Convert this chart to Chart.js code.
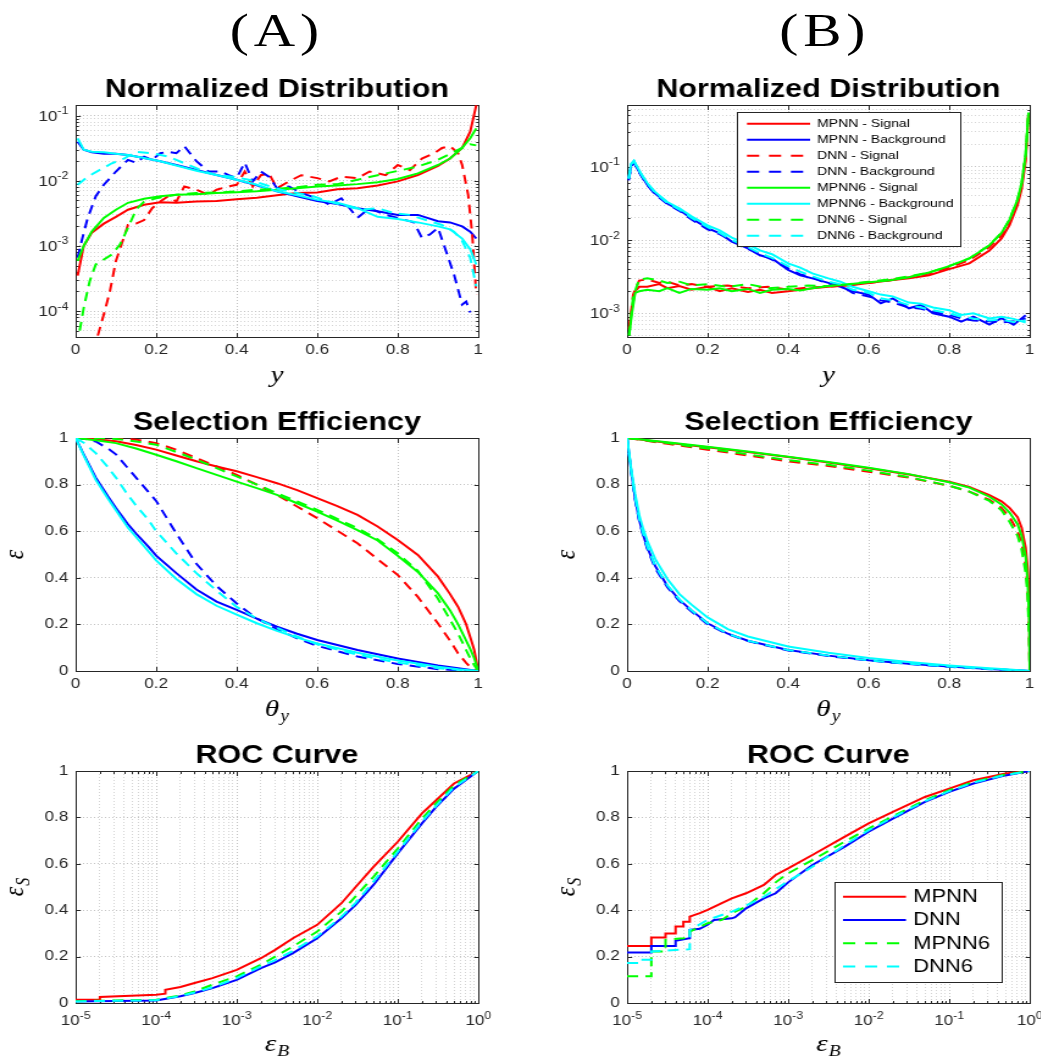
<!DOCTYPE html>
<html>
<head>
<meta charset="utf-8">
<title>MPNN vs DNN</title>
<script src="https://cdn.jsdelivr.net/npm/chart.js@4.4.1/dist/chart.umd.min.js"></script>
<style>
  html, body { margin: 0; padding: 0; background: #fff; overflow: hidden; }
  /* whole figure is a bit wide, so it is laid out narrow and stretched */
  #page { position: absolute; left: 0; top: 0; width: 854px; height: 1057px;
          transform: scaleX(1.22); transform-origin: 0 0; }
  .panel { position: absolute; width: 406px; }
  .tag { position: absolute; top: 7px; width: 200px; text-align: center;
         font: 47px/47px "Liberation Serif", "Times New Roman", serif; letter-spacing: 4px; color: #000; }
</style>
</head>
<body>
<div id="page">
  <div class="tag" style="left:127px">(A)</div>
  <div class="tag" style="left:576px">(B)</div>
  <div class="panel" id="pA1"><canvas id="cA1"></canvas></div>
  <div class="panel" id="pB1"><canvas id="cB1"></canvas></div>
  <div class="panel" id="pA2"><canvas id="cA2"></canvas></div>
  <div class="panel" id="pB2"><canvas id="cB2"></canvas></div>
  <div class="panel" id="pA3"><canvas id="cA3"></canvas></div>
  <div class="panel" id="pB3"><canvas id="cB3"></canvas></div>
</div>
<script>
// ---------- data ----------
// (A) normalized distribution
const A1_X = [0.005,0.02,0.04,0.07,0.1,0.13,0.17,0.21,0.25,0.3,0.35,0.4,0.45,0.5,0.55,0.6,0.65,0.7,0.75,0.8,0.85,0.9,0.93,0.96,0.98,0.995];
const A1_MPNN_SIG  = [3.5e-4,1.0e-3,1.6e-3,2.2e-3,2.8e-3,3.6e-3,4.3e-3,4.7e-3,4.6e-3,4.8e-3,4.9e-3,5.2e-3,5.5e-3,6.0e-3,6.5e-3,6.6e-3,7.4e-3,7.7e-3,8.5e-3,9.8e-3,1.23e-2,1.7e-2,2.2e-2,3.2e-2,5.7e-2,0.145];
const A1_MPNN_BKG  = [0.040,0.030,0.0275,0.026,0.026,0.025,0.0224,0.020,0.0175,0.0147,0.0123,0.0104,0.0085,0.0069,0.0058,0.0049,0.0044,0.0038,0.0034,0.0030,0.0030,0.0024,0.0023,0.0020,0.00166,0.0013];
const A1_MPNN6_SIG = [5.9e-4,1.0e-3,1.66e-3,2.7e-3,3.6e-3,4.6e-3,5.3e-3,5.8e-3,6.1e-3,6.2e-3,6.5e-3,6.7e-3,6.9e-3,7.3e-3,7.7e-3,8.2e-3,8.5e-3,8.9e-3,9.5e-3,1.07e-2,1.3e-2,1.75e-2,2.2e-2,3.2e-2,4.5e-2,6.4e-2];
const A1_MPNN6_BKG = [0.045,0.030,0.028,0.0275,0.026,0.025,0.0224,0.020,0.0172,0.0143,0.0123,0.0104,0.0087,0.0069,0.006,0.0051,0.0046,0.0038,0.0028,0.0026,0.0023,0.002,0.0018,0.0013,8.9e-4,5.2e-4];
const A1_DNN_SIG_X = [0.055,0.07,0.085,0.1,0.13,0.15,0.17,0.19,0.21,0.23,0.25,0.27,0.3,0.33,0.35,0.38,0.4,0.42,0.44,0.46,0.48,0.5,0.53,0.56,0.6,0.63,0.66,0.7,0.73,0.77,0.8,0.83,0.86,0.89,0.91,0.93,0.95,0.96,0.975,0.985,0.995];
const A1_DNN_SIG   = [4.2e-5,8.9e-5,2.0e-4,5.9e-4,2.1e-3,2.2e-3,2.5e-3,3.8e-3,4.8e-3,5.8e-3,4.8e-3,8.2e-3,7.3e-3,6.1e-3,7.3e-3,8.2e-3,8.7e-3,1.39e-2,8.2e-3,1.22e-2,1.3e-2,7.7e-3,9.8e-3,1.22e-2,1.1e-2,9.8e-3,1.16e-2,1.1e-2,1.39e-2,1.22e-2,1.75e-2,1.46e-2,2.2e-2,2.65e-2,3.2e-2,3.4e-2,2.65e-2,1.75e-2,6.1e-3,1.5e-3,1.8e-4];
const A1_DNN_BKG_X = [0.005,0.015,0.03,0.05,0.07,0.1,0.13,0.15,0.17,0.19,0.21,0.23,0.25,0.27,0.3,0.33,0.36,0.38,0.4,0.42,0.44,0.46,0.48,0.5,0.53,0.56,0.6,0.63,0.66,0.7,0.73,0.77,0.8,0.84,0.86,0.88,0.9,0.92,0.94,0.96,0.97,0.98];
const A1_DNN_BKG   = [6.6e-4,1.2e-3,2.7e-3,5.8e-3,8.7e-3,1.39e-2,2.1e-2,1.9e-2,2.35e-2,2.1e-2,2.65e-2,2.8e-2,2.65e-2,3.4e-2,2.0e-2,1.39e-2,1.39e-2,1.22e-2,1.1e-2,1.9e-2,9.8e-3,1.39e-2,1.16e-2,7.7e-3,8.2e-3,6.5e-3,5.4e-3,4.3e-3,5.4e-3,2.7e-3,3.8e-3,3.0e-3,2.7e-3,2.3e-3,1.33e-3,1.5e-3,1.9e-3,8.3e-4,3.6e-4,1.26e-4,1.4e-4,9.5e-5];
const A1_DNN6_SIG_X = [0.01,0.02,0.035,0.05,0.07,0.09,0.11,0.13,0.15,0.17,0.2,0.25,0.3,0.35,0.4,0.45,0.5,0.55,0.6,0.65,0.7,0.75,0.8,0.85,0.9,0.93,0.96,0.98,0.995];
const A1_DNN6_SIG   = [5e-5,1.12e-4,2.9e-4,5.2e-4,6.2e-4,7.4e-4,1.05e-3,1.9e-3,3.6e-3,4.8e-3,5.4e-3,6.1e-3,6.5e-3,6.6e-3,6.9e-3,7.3e-3,7.5e-3,8.0e-3,8.7e-3,8.9e-3,1.04e-2,1.22e-2,1.42e-2,1.66e-2,2.1e-2,2.6e-2,3.2e-2,3.65e-2,3.5e-2];
const A1_DNN6_BKG_X = [0.005,0.03,0.06,0.09,0.12,0.15,0.19,0.23,0.27,0.31,0.35,0.39,0.43,0.47,0.51,0.55,0.59,0.63,0.67,0.71,0.75,0.79,0.83,0.87,0.91,0.94,0.96,0.98,0.995];
const A1_DNN6_BKG   = [8.7e-3,1.16e-2,1.47e-2,1.86e-2,2.2e-2,2.8e-2,2.65e-2,2.35e-2,1.86e-2,1.47e-2,1.22e-2,1.16e-2,1.04e-2,8.7e-3,7.3e-3,6.5e-3,5.8e-3,4.8e-3,4.1e-3,3.6e-3,3.8e-3,3.2e-3,3.0e-3,2.5e-3,2.1e-3,1.66e-3,1.2e-3,6.6e-4,2.4e-4];

// (B) normalized distribution
const B1_SIG_X = [0.005,0.012,0.02,0.03,0.05,0.08,0.1,0.13,0.16,0.2,0.23,0.26,0.3,0.33,0.36,0.4,0.43,0.46,0.5,0.55,0.6,0.65,0.7,0.75,0.8,0.85,0.9,0.93,0.95,0.97,0.98,0.99,0.997];
const B1_MPNN_SIG  = [6.3e-4,1.17e-3,2.0e-3,2.3e-3,2.3e-3,2.5e-3,2.2e-3,2.35e-3,2.1e-3,2.3e-3,2.0e-3,2.2e-3,1.95e-3,2.1e-3,1.9e-3,2.0e-3,2.1e-3,2.2e-3,2.3e-3,2.4e-3,2.6e-3,2.8e-3,3.0e-3,3.3e-3,4.0e-3,4.8e-3,7.2e-3,1.05e-2,1.6e-2,3.0e-2,5.0e-2,0.12,0.5];
const B1_MPNN6_SIG = [5e-4,1.0e-3,1.9e-3,2.0e-3,2.1e-3,2.0e-3,2.2e-3,1.9e-3,2.15e-3,2.1e-3,2.2e-3,2.0e-3,2.15e-3,1.9e-3,2.1e-3,2.15e-3,2.05e-3,2.2e-3,2.35e-3,2.5e-3,2.65e-3,2.8e-3,3.1e-3,3.6e-3,4.4e-3,5.6e-3,8.5e-3,1.25e-2,1.9e-2,3.6e-2,6.0e-2,0.15,0.55];
const B1_DSIG_X = [0.005,0.015,0.03,0.05,0.08,0.1,0.13,0.16,0.2,0.25,0.3,0.35,0.4,0.45,0.5,0.55,0.6,0.65,0.7,0.75,0.8,0.85,0.9,0.93,0.95,0.97,0.98,0.99,0.997];
const B1_DNN_SIG   = [6e-4,1.8e-3,2.8e-3,2.9e-3,2.6e-3,2.7e-3,2.4e-3,2.5e-3,2.3e-3,2.4e-3,2.2e-3,2.3e-3,2.1e-3,2.25e-3,2.3e-3,2.45e-3,2.6e-3,2.8e-3,3.1e-3,3.5e-3,4.2e-3,5.3e-3,8e-3,1.15e-2,1.75e-2,3.3e-2,5.5e-2,0.14,0.52];
const B1_DNN6_SIG  = [5e-4,1.7e-3,2.9e-3,3.0e-3,2.8e-3,2.6e-3,2.7e-3,2.4e-3,2.5e-3,2.3e-3,2.5e-3,2.2e-3,2.3e-3,2.4e-3,2.35e-3,2.5e-3,2.7e-3,2.9e-3,3.2e-3,3.6e-3,4.4e-3,5.6e-3,8.5e-3,1.25e-2,1.9e-2,3.6e-2,6e-2,0.15,0.55];
const B1_BKG_X = [0.004,0.01,0.017,0.025,0.035,0.05,0.07,0.1,0.13,0.16,0.2,0.23,0.26,0.3,0.33,0.36,0.4,0.43,0.46,0.5,0.53,0.56,0.6,0.63,0.66,0.7,0.73,0.76,0.8,0.83,0.86,0.9,0.93,0.96,0.99];
const B1_MPNN_BKG  = [0.069,0.105,0.117,0.095,0.077,0.057,0.043,0.0316,0.0256,0.0197,0.0145,0.0123,0.0095,0.0077,0.0062,0.0056,0.0039,0.0033,0.003,0.0026,0.0023,0.002,0.0018,0.00137,0.0016,0.00117,0.0013,0.001,9e-4,7.7e-4,9e-4,7e-4,8.6e-4,7e-4,9.4e-4];
const B1_MPNN6_BKG = [0.07,0.11,0.12,0.1,0.08,0.06,0.045,0.033,0.027,0.021,0.0158,0.0135,0.0108,0.0088,0.0072,0.0064,0.0048,0.0042,0.0035,0.003,0.0027,0.0023,0.002,0.0018,0.0017,0.0014,0.00135,0.0012,0.0011,9.5e-4,0.001,8.5e-4,9e-4,8.4e-4,7.5e-4];
const B1_DNN_BKG   = [0.065,0.1,0.115,0.093,0.075,0.056,0.042,0.031,0.025,0.019,0.014,0.012,0.0098,0.0076,0.0064,0.0054,0.0041,0.0034,0.0031,0.0025,0.0024,0.0019,0.0017,0.0015,0.0014,0.0012,0.00115,0.00105,9.5e-4,8.5e-4,8e-4,7.8e-4,7.5e-4,7.8e-4,8.5e-4];
const B1_DNN6_BKG  = [0.068,0.108,0.12,0.098,0.079,0.059,0.044,0.032,0.026,0.02,0.015,0.0125,0.01,0.008,0.0066,0.0057,0.0044,0.0037,0.0032,0.0027,0.0025,0.0021,0.0019,0.0016,0.0015,0.0013,0.0012,0.0011,0.001,9e-4,8.5e-4,8e-4,8.2e-4,7.6e-4,8e-4];

// (A) selection efficiency
const A2_SIG_X = [0,0.05,0.1,0.15,0.2,0.25,0.3,0.35,0.4,0.45,0.5,0.55,0.6,0.65,0.7,0.75,0.8,0.85,0.9,0.93,0.95,0.97,0.98,0.99,1];
const A2_MPNN_SIG  = [1,0.995,0.986,0.97,0.95,0.925,0.9,0.878,0.857,0.832,0.806,0.776,0.742,0.708,0.67,0.62,0.562,0.498,0.405,0.33,0.275,0.2,0.146,0.09,0];
const A2_MPNN6_SIG = [1,0.99,0.978,0.955,0.928,0.9,0.871,0.842,0.813,0.785,0.756,0.72,0.684,0.645,0.605,0.56,0.495,0.425,0.333,0.26,0.2,0.13,0.095,0.055,0];
const A2_DNN_SIG   = [1,1,1,0.993,0.978,0.95,0.914,0.878,0.842,0.8,0.756,0.706,0.656,0.602,0.548,0.48,0.412,0.318,0.204,0.13,0.075,0.035,0.017,0.007,0];
const A2_DNN6_SIG  = [1,1,0.996,0.985,0.971,0.94,0.907,0.871,0.835,0.8,0.763,0.728,0.692,0.653,0.613,0.565,0.505,0.43,0.31,0.22,0.16,0.09,0.055,0.025,0];
const A2_BKG_X = [0,0.02,0.05,0.08,0.1,0.13,0.15,0.18,0.2,0.25,0.3,0.35,0.4,0.45,0.5,0.55,0.6,0.7,0.8,0.9,0.95,1];
const A2_MPNN_BKG  = [1,0.93,0.83,0.75,0.70,0.63,0.59,0.535,0.495,0.42,0.35,0.298,0.262,0.225,0.19,0.16,0.133,0.09,0.054,0.024,0.012,0];
const A2_MPNN6_BKG = [1,0.925,0.82,0.74,0.69,0.615,0.575,0.515,0.475,0.395,0.33,0.28,0.242,0.205,0.172,0.143,0.118,0.078,0.045,0.018,0.008,0];
const A2_DNN_BKG   = [1,0.997,0.985,0.955,0.93,0.87,0.83,0.77,0.73,0.59,0.46,0.365,0.29,0.225,0.18,0.14,0.108,0.062,0.03,0.008,0.003,0];
const A2_DNN6_BKG  = [1,0.98,0.935,0.875,0.83,0.755,0.71,0.65,0.6,0.505,0.42,0.345,0.275,0.225,0.185,0.148,0.115,0.07,0.036,0.012,0.005,0];

// (B) selection efficiency
const B2_SIG_X = [0,0.1,0.2,0.3,0.4,0.5,0.6,0.7,0.8,0.85,0.9,0.93,0.95,0.97,0.98,0.99,0.995,0.999,1];
const B2_MPNN_SIG  = [1,0.98,0.96,0.94,0.918,0.895,0.87,0.843,0.812,0.79,0.755,0.728,0.7,0.66,0.615,0.53,0.44,0.32,0];
const B2_MPNN6_SIG = [1,0.982,0.962,0.942,0.92,0.897,0.872,0.845,0.81,0.787,0.748,0.715,0.68,0.63,0.58,0.49,0.38,0.2,0];
const B2_DNN_SIG   = [1,0.975,0.95,0.925,0.9,0.88,0.855,0.83,0.795,0.77,0.735,0.7,0.66,0.6,0.55,0.45,0.35,0.15,0];
const B2_DNN6_SIG  = [1,0.978,0.955,0.93,0.905,0.885,0.86,0.832,0.795,0.77,0.73,0.69,0.64,0.58,0.52,0.42,0.32,0.12,0];
const B2_BKG_X = [0,0.005,0.01,0.02,0.03,0.04,0.05,0.07,0.1,0.13,0.16,0.2,0.25,0.3,0.4,0.5,0.6,0.7,0.8,0.9,0.95,1];
const B2_MPNN_BKG  = [1,0.93,0.86,0.74,0.65,0.585,0.53,0.45,0.365,0.305,0.26,0.205,0.16,0.13,0.09,0.066,0.046,0.031,0.019,0.009,0.004,0];
const B2_MPNN6_BKG = [1,0.935,0.87,0.76,0.67,0.61,0.56,0.48,0.395,0.33,0.285,0.23,0.18,0.148,0.105,0.078,0.056,0.039,0.024,0.012,0.006,0];
const B2_DNN_BKG   = [1,0.925,0.855,0.735,0.645,0.58,0.525,0.44,0.36,0.3,0.255,0.2,0.158,0.128,0.088,0.064,0.045,0.03,0.018,0.008,0.004,0];
const B2_DNN6_BKG  = [1,0.93,0.86,0.745,0.655,0.59,0.535,0.45,0.368,0.307,0.26,0.205,0.16,0.13,0.09,0.066,0.046,0.031,0.019,0.009,0.004,0];

// (A) ROC
const A3_MPNN_X = [1e-5,2e-5,2e-5,1e-4,1.3e-4,1.3e-4,2e-4,3e-4,5e-4,1e-3,2e-3,3e-3,5e-3,1e-2,2e-2,3e-2,5e-2,1e-1,2e-1,3e-1,5e-1,1];
const A3_MPNN   = [0.014,0.014,0.026,0.036,0.04,0.057,0.069,0.086,0.107,0.143,0.193,0.229,0.279,0.337,0.43,0.5,0.587,0.695,0.817,0.874,0.946,1];
const A3_X = [1e-5,1e-4,2e-4,3e-4,5e-4,1e-3,2e-3,3e-3,5e-3,1e-2,2e-2,3e-2,5e-2,1e-1,2e-1,3e-1,5e-1,1];
const A3_DNN    = [0.007,0.011,0.029,0.043,0.064,0.1,0.15,0.175,0.215,0.279,0.365,0.423,0.509,0.645,0.774,0.845,0.924,1];
const A3_MPNN6  = [0.008,0.014,0.033,0.05,0.079,0.115,0.165,0.2,0.244,0.308,0.394,0.46,0.544,0.666,0.795,0.86,0.938,1];
const A3_DNN6   = [0.007,0.012,0.03,0.045,0.068,0.107,0.158,0.185,0.225,0.287,0.372,0.432,0.523,0.652,0.782,0.85,0.93,1];

// (B) ROC
const B3_MPNN_X  = [1e-5,2e-5,2e-5,3e-5,3e-5,4e-5,4e-5,5e-5,5e-5,6e-5,6e-5,8e-5,1e-4,1.5e-4,2e-4,3e-4,5e-4,7e-4,1e-3,2e-3,5e-3,1e-2,2e-2,5e-2,1e-1,2e-1,5e-1,1];
const B3_MPNN    = [0.246,0.246,0.282,0.282,0.30,0.30,0.33,0.33,0.35,0.35,0.372,0.387,0.401,0.43,0.451,0.473,0.509,0.552,0.58,0.638,0.716,0.774,0.824,0.888,0.924,0.96,0.989,1];
const B3_DNN_X   = [1e-5,2e-5,2e-5,4e-5,4e-5,6e-5,6e-5,8e-5,1e-4,1.2e-4,2e-4,2.2e-4,3e-4,5e-4,7e-4,1e-3,2e-3,5e-3,1e-2,2e-2,5e-2,1e-1,2e-1,5e-1,1];
const B3_DNN     = [0.218,0.218,0.246,0.246,0.268,0.279,0.315,0.32,0.337,0.358,0.365,0.37,0.408,0.451,0.473,0.52,0.595,0.673,0.738,0.795,0.867,0.91,0.946,0.981,1];
const B3_MPNN6_X = [1e-5,2e-5,2e-5,3e-5,3e-5,5e-5,6e-5,6e-5,1e-4,1.5e-4,2e-4,3e-4,5e-4,7e-4,1e-3,2e-3,5e-3,1e-2,2e-2,5e-2,1e-1,2e-1,5e-1,1];
const B3_MPNN6   = [0.115,0.115,0.222,0.222,0.272,0.279,0.285,0.308,0.344,0.358,0.387,0.415,0.473,0.52,0.559,0.616,0.695,0.752,0.805,0.874,0.917,0.953,0.985,1];
const B3_DNN6_X  = [1e-5,1.5e-5,1.5e-5,2e-5,2e-5,6e-5,6e-5,1e-4,2e-4,3e-4,5e-4,1e-3,2e-3,5e-3,1e-2,2e-2,5e-2,1e-1,2e-1,5e-1,1];
const B3_DNN6    = [0.172,0.172,0.186,0.186,0.222,0.232,0.315,0.358,0.394,0.42,0.458,0.525,0.587,0.68,0.745,0.8,0.87,0.913,0.95,0.983,1];

// ticks and labels (log axes: the exponent written above the "10")
const LIN_TICKS = [0, 0.2, 0.4, 0.6, 0.8, 1];
const LIN_LABELS = ['0', '0.2', '0.4', '0.6', '0.8', '1'];
const A1_Y_TICKS = [1e-4, 1e-3, 1e-2, 1e-1];
const A1_Y_EXP = ['-4', '-3', '-2', '-1'];
const B1_Y_TICKS = [1e-3, 1e-2, 1e-1];
const B1_Y_EXP = ['-3', '-2', '-1'];
const ROC_X_TICKS = [1e-5, 1e-4, 1e-3, 1e-2, 1e-1, 1];
const ROC_X_EXP = ['-5', '-4', '-3', '-2', '-1', '0'];

const DIST_LABELS = ['MPNN - Signal', 'MPNN - Background', 'DNN - Signal', 'DNN - Background',
                     'MPNN6 - Signal', 'MPNN6 - Background', 'DNN6 - Signal', 'DNN6 - Background'];
const ROC_LABELS = ['MPNN', 'DNN', 'MPNN6', 'DNN6'];

// ---------- style ----------
const RED = '#ff0000', BLUE = '#0000ff', GREEN = '#00ff00', CYAN = '#00ffff';
const AXIS_COLOR = '#262626';
const GRID_MAJOR = 'rgba(38,38,38,0.28)';
const GRID_MINOR = 'rgba(38,38,38,0.2)';
const SANS = '"Liberation Sans", Arial, Helvetica, sans-serif';
const SERIF = '"Liberation Serif", "Times New Roman", serif';
const DASH = [9, 6];
const LEGEND_DASH = [10, 8];
const ML = 62, MR = 14, MT = 50, MB = 62;   // canvas margins round the plot box

// ---------- helpers ----------
function series(label, xs, ys, color, dashed, order) {
  return {
    label, order,
    data: xs.map((x, i) => ({ x, y: ys[i] })),
    borderColor: color, borderWidth: 2, borderDash: dashed ? DASH : [],
    pointRadius: 0, fill: false, tension: 0
  };
}

function logMinors(min, max) {
  const out = [];
  for (let e = Math.floor(Math.log10(min)); e <= Math.ceil(Math.log10(max)); e++) {
    for (let k = 2; k <= 9; k++) {
      const v = k * Math.pow(10, e);
      if (v > min && v < max) out.push(v);
    }
  }
  return out;
}

function axis(kind, min, max, values, labels, pad, fit) {
  const isLog = kind === 'logarithmic';
  const list = values.map((v, i) => isLog
    ? { value: v, major: true, lbl: '', exp: labels[i] }
    : { value: v, major: true, lbl: labels[i] });
  if (isLog) logMinors(min, max).forEach(v => list.push({ value: v, major: false, lbl: '' }));
  list.sort((p, q) => p.value - q.value);
  return {
    type: kind, min, max, bounds: 'data',
    afterBuildTicks: s => { s.ticks = list.map(t => ({ ...t })); },
    afterFit: fit,
    ticks: {
      autoSkip: false, maxRotation: 0, minRotation: 0, padding: pad, color: AXIS_COLOR,
      font: { family: SANS, size: 14 },
      callback: (v, i, tk) => tk[i].lbl
    },
    grid: {
      drawTicks: false, lineWidth: 1,
      color: c => (c.tick && c.tick.major) ? GRID_MAJOR : GRID_MINOR
    },
    border: { display: false, dash: [1, 2] }
  };
}

function mathText(ctx, main, sub, x, y) {
  ctx.font = 'italic 24px ' + SERIF;
  const w1 = ctx.measureText(main).width;
  ctx.font = 'italic 16px ' + SERIF;
  const w2 = sub ? ctx.measureText(sub).width + 1 : 0;
  const x0 = x - (w1 + w2) / 2;
  ctx.textAlign = 'left';
  ctx.textBaseline = 'alphabetic';
  ctx.fillStyle = '#000';
  ctx.font = 'italic 24px ' + SERIF;
  ctx.fillText(main, x0, y);
  if (sub) {
    ctx.font = 'italic 16px ' + SERIF;
    ctx.fillText(sub, x0 + w1 + 1, y + 5);
  }
}

// "10" with a raised exponent for every decade tick of a log axis
function drawPowerLabels(chart) {
  const { ctx, chartArea: a } = chart;
  ctx.fillStyle = AXIS_COLOR;
  ctx.textAlign = 'left';
  ctx.textBaseline = 'alphabetic';
  ['x', 'y'].forEach(id => {
    const s = chart.scales[id];
    s.ticks.forEach(t => {
      if (t.exp === undefined) return;
      const p = s.getPixelForValue(t.value);
      ctx.font = '14px ' + SANS;
      const wb = ctx.measureText('10').width;
      ctx.font = '10px ' + SANS;
      const we = ctx.measureText(t.exp).width;
      let x0, yb;
      if (id === 'x') { x0 = p - (wb + we) / 2; yb = a.bottom + 22; }
      else { x0 = a.left - 6 - wb - we; yb = p + 5; }
      ctx.font = '14px ' + SANS;
      ctx.fillText('10', x0, yb);
      ctx.font = '10px ' + SANS;
      ctx.fillText(t.exp, x0 + wb, yb - 6.5);
    });
  });
}

function drawLegend(chart, lg) {
  const { ctx, chartArea: a } = chart;
  const x0 = Math.round(a.left + lg.box[0]) + 0.5, y0 = Math.round(a.top + lg.box[1]) + 0.5;
  const w = Math.round(lg.box[2] - lg.box[0]), h = Math.round(lg.box[3] - lg.box[1]);
  ctx.fillStyle = '#fff';
  ctx.fillRect(x0, y0, w, h);
  ctx.setLineDash([]);
  ctx.strokeStyle = AXIS_COLOR;
  ctx.lineWidth = 1;
  ctx.strokeRect(x0, y0, w, h);
  ctx.font = lg.font + 'px ' + SANS;
  ctx.textAlign = 'left';
  ctx.textBaseline = 'middle';
  chart.data.datasets.forEach((ds, i) => {
    const y = a.top + lg.row0 + i * lg.step;
    ctx.strokeStyle = ds.borderColor;
    ctx.lineWidth = 2;
    ctx.setLineDash(ds.borderDash.length ? LEGEND_DASH : []);
    ctx.beginPath();
    ctx.moveTo(a.left + lg.line[0], y);
    ctx.lineTo(a.left + lg.line[1], y);
    ctx.stroke();
    ctx.fillStyle = '#000';
    ctx.fillText(ds.label, a.left + lg.text, y + 0.5);
  });
  ctx.setLineDash([]);
}

// box, inward ticks, titles, math labels, legend
const matlabAxes = {
  id: 'matlabAxes',
  beforeDatasetsDraw(chart) {
    const { ctx, chartArea: a } = chart;
    const L = Math.round(a.left) + 0.5, T = Math.round(a.top) + 0.5;
    const R = Math.round(a.right) + 0.5, B = Math.round(a.bottom) + 0.5;
    const xs = chart.scales.x, ys = chart.scales.y;
    ctx.save();
    ctx.strokeStyle = AXIS_COLOR;
    ctx.lineWidth = 1;
    ctx.beginPath();
    xs.ticks.forEach(t => {
      const p = Math.round(xs.getPixelForValue(t.value)) + 0.5;
      const len = t.major ? 4.5 : 2.5;
      ctx.moveTo(p, B); ctx.lineTo(p, B - len);
      ctx.moveTo(p, T); ctx.lineTo(p, T + len);
    });
    ys.ticks.forEach(t => {
      const p = Math.round(ys.getPixelForValue(t.value)) + 0.5;
      const len = t.major ? 3.7 : 2.2;
      ctx.moveTo(L, p); ctx.lineTo(L + len, p);
      ctx.moveTo(R, p); ctx.lineTo(R - len, p);
    });
    ctx.stroke();
    ctx.strokeRect(L, T, R - L, B - T);
    ctx.restore();
  },
  afterDraw(chart, args, o) {
    const { ctx, chartArea: a } = chart;
    const cx = (a.left + a.right) / 2;
    ctx.save();
    drawPowerLabels(chart);
    ctx.fillStyle = '#000';
    ctx.font = 'bold 25px ' + SANS;
    ctx.textAlign = 'center';
    ctx.textBaseline = 'alphabetic';
    ctx.fillText(o.title, cx, a.top - 8);
    mathText(ctx, o.xlabel[0], o.xlabel[1], cx, a.bottom + o.xlabelDy);
    if (o.ylabel) {
      ctx.save();
      ctx.translate(a.left - 43, (a.top + a.bottom) / 2);
      ctx.rotate(-Math.PI / 2);
      mathText(ctx, o.ylabel[0], o.ylabel[1], 0, 0);
      ctx.restore();
    }
    if (o.legend) drawLegend(chart, o.legend);
    ctx.restore();
  }
};

function panel(id, col, row, datasets, xAxis, yAxis, extra) {
  const tops = [105, 438, 771], heights = [232, 233, 232];
  const box = document.getElementById('p' + id);
  box.style.left = (col === 0 ? 0 : 452) + 'px';
  box.style.top = (tops[row] - MT) + 'px';
  box.style.height = (MT + heights[row] + MB) + 'px';
  new Chart(document.getElementById('c' + id), {
    type: 'line',
    data: { datasets },
    options: {
      responsive: true, maintainAspectRatio: false, animation: false, events: [],
      layout: { padding: { left: 0, right: MR, top: MT, bottom: 0 } },
      scales: { x: xAxis, y: yAxis },
      plugins: { legend: { display: false }, tooltip: { enabled: false }, matlabAxes: extra }
    },
    plugins: [matlabAxes]
  });
}

const fitX = s => { s.height = MB; };
const fitY = s => { s.width = ML; };

function eightSeries(x, v) {
  // v: [MPNN sig, MPNN bkg, DNN sig, DNN bkg, MPNN6 sig, MPNN6 bkg, DNN6 sig, DNN6 bkg]
  const colors = [RED, BLUE, RED, BLUE, GREEN, CYAN, GREEN, CYAN];
  const dashed = [false, false, true, true, false, false, true, true];
  return DIST_LABELS.map((lab, i) => series(lab, x[i], v[i], colors[i], dashed[i], 8 - i));
}
function rocSeries(x, v) {
  const colors = [RED, BLUE, GREEN, CYAN];
  const dashed = [false, false, true, true];
  return ROC_LABELS.map((lab, i) => series(lab, x[i], v[i], colors[i], dashed[i], 4 - i));
}

// ---------- row 1: normalized distribution ----------
panel('A1', 0, 0,
  eightSeries([A1_X, A1_X, A1_DNN_SIG_X, A1_DNN_BKG_X, A1_X, A1_X, A1_DNN6_SIG_X, A1_DNN6_BKG_X],
              [A1_MPNN_SIG, A1_MPNN_BKG, A1_DNN_SIG, A1_DNN_BKG, A1_MPNN6_SIG, A1_MPNN6_BKG, A1_DNN6_SIG, A1_DNN6_BKG]),
  axis('linear', 0, 1, LIN_TICKS, LIN_LABELS, 5, fitX),
  axis('logarithmic', 4e-5, 0.146, A1_Y_TICKS, A1_Y_EXP, 6, fitY),
  { title: 'Normalized Distribution', xlabel: ['y', ''], xlabelDy: 45 });

panel('B1', 1, 0,
  eightSeries([B1_SIG_X, B1_BKG_X, B1_DSIG_X, B1_BKG_X, B1_SIG_X, B1_BKG_X, B1_DSIG_X, B1_BKG_X],
              [B1_MPNN_SIG, B1_MPNN_BKG, B1_DNN_SIG, B1_DNN_BKG, B1_MPNN6_SIG, B1_MPNN6_BKG, B1_DNN6_SIG, B1_DNN6_BKG]),
  axis('linear', 0, 1, LIN_TICKS, LIN_LABELS, 5, fitX),
  axis('logarithmic', 4.75e-4, 0.695, B1_Y_TICKS, B1_Y_EXP, 6, fitY),
  { title: 'Normalized Distribution', xlabel: ['y', ''], xlabelDy: 45,
    legend: { box: [90, 7, 273, 141], row0: 18.7, step: 16, line: [98.3, 150], text: 155.7, font: 11.5 } });

// ---------- row 2: selection efficiency ----------
panel('A2', 0, 1,
  eightSeries([A2_SIG_X, A2_BKG_X, A2_SIG_X, A2_BKG_X, A2_SIG_X, A2_BKG_X, A2_SIG_X, A2_BKG_X],
              [A2_MPNN_SIG, A2_MPNN_BKG, A2_DNN_SIG, A2_DNN_BKG, A2_MPNN6_SIG, A2_MPNN6_BKG, A2_DNN6_SIG, A2_DNN6_BKG]),
  axis('linear', 0, 1, LIN_TICKS, LIN_LABELS, 5, fitX),
  axis('linear', 0, 1, LIN_TICKS, LIN_LABELS, 6, fitY),
  { title: 'Selection Efficiency', xlabel: ['θ', 'y'], xlabelDy: 45, ylabel: ['ε', ''] });

panel('B2', 1, 1,
  eightSeries([B2_SIG_X, B2_BKG_X, B2_SIG_X, B2_BKG_X, B2_SIG_X, B2_BKG_X, B2_SIG_X, B2_BKG_X],
              [B2_MPNN_SIG, B2_MPNN_BKG, B2_DNN_SIG, B2_DNN_BKG, B2_MPNN6_SIG, B2_MPNN6_BKG, B2_DNN6_SIG, B2_DNN6_BKG]),
  axis('linear', 0, 1, LIN_TICKS, LIN_LABELS, 5, fitX),
  axis('linear', 0, 1, LIN_TICKS, LIN_LABELS, 6, fitY),
  { title: 'Selection Efficiency', xlabel: ['θ', 'y'], xlabelDy: 45, ylabel: ['ε', ''] });

// ---------- row 3: ROC ----------
panel('A3', 0, 2,
  rocSeries([A3_MPNN_X, A3_X, A3_X, A3_X], [A3_MPNN, A3_DNN, A3_MPNN6, A3_DNN6]),
  axis('logarithmic', 1e-5, 1, ROC_X_TICKS, ROC_X_EXP, 9, fitX),
  axis('linear', 0, 1, LIN_TICKS, LIN_LABELS, 6, fitY),
  { title: 'ROC Curve', xlabel: ['ε', 'B'], xlabelDy: 48, ylabel: ['ε', 'S'] });

panel('B3', 1, 2,
  rocSeries([B3_MPNN_X, B3_DNN_X, B3_MPNN6_X, B3_DNN6_X], [B3_MPNN, B3_DNN, B3_MPNN6, B3_DNN6]),
  axis('logarithmic', 1e-5, 1, ROC_X_TICKS, ROC_X_EXP, 9, fitX),
  axis('linear', 0, 1, LIN_TICKS, LIN_LABELS, 6, fitY),
  { title: 'ROC Curve', xlabel: ['ε', 'B'], xlabelDy: 48, ylabel: ['ε', 'S'],
    legend: { box: [169.6, 110.7, 306.5, 210.7], row0: 125.7, step: 23.3, line: [177, 228.6], text: 234.4, font: 18 } });
</script>
</body>
</html>
